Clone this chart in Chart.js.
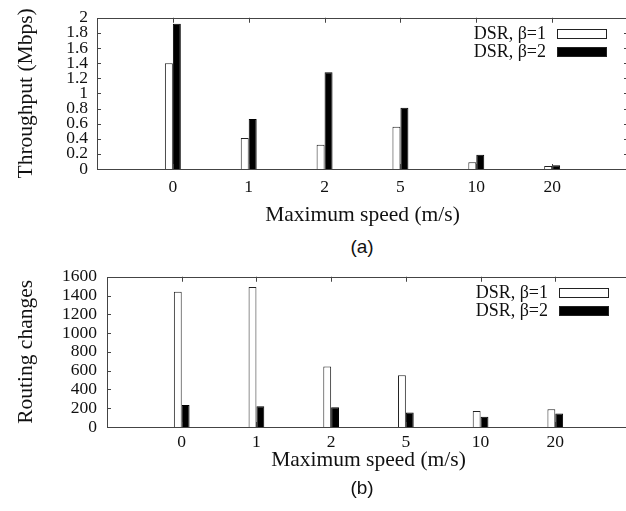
<!DOCTYPE html>
<html>
<head>
<meta charset="utf-8">
<script src="https://cdn.jsdelivr.net/npm/chart.js@4/dist/chart.umd.min.js"></script>
<style>
  html, body { margin: 0; padding: 0; background: #fff; overflow: hidden; width: 626px; height: 511px; }
  canvas { position: absolute; left: 0; }
  #ca { top: 0; }
  #cb { top: 258px; }
  .cap { position: absolute; font-family: 'Liberation Sans', Arial, sans-serif; font-size: 19px; color: #111; width: 100px; text-align: center; line-height: 20px; z-index: 2; }
</style>
</head>
<body>
<canvas id="ca" width="636" height="235"></canvas>
<canvas id="cb" width="636" height="220"></canvas>
<div class="cap" style="left:312px; top:237px;">(a)</div>
<div class="cap" style="left:312px; top:478px;">(b)</div>
<script>
// ---- data ----
const speedLabels = ['0', '1', '2', '5', '10', '20'];
const seriesNames = ['DSR, \u03b2=1', 'DSR, \u03b2=2'];
const throughputB1 = [1.40, 0.41, 0.32, 0.56, 0.09, 0.04];
const throughputB2 = [1.92, 0.66, 1.28, 0.81, 0.19, 0.05];
const routingB1 = [1440, 1490, 645, 550, 170, 190];
const routingB2 = [235, 220, 210, 155, 110, 145];
const throughputTicks = { min: 0, max: 2, step: 0.2 };
const routingTicks = { min: 0, max: 1600, step: 200 };

Chart.defaults.font.family = "'Liberation Serif', 'Times New Roman', serif";
Chart.defaults.color = '#111';

const FRAME = '#444';

const framePlugin = {
  id: 'frame',
  afterDatasetsDraw(chart) {
    const { ctx, chartArea: a, scales: { x, y } } = chart;
    ctx.save();
    ctx.strokeStyle = FRAME;
    ctx.lineWidth = 1;
    ctx.beginPath();
    x.ticks.forEach(t => {
      if (t.value < 0 || t.value >= speedLabels.length) return;
      const px = Math.round(x.getPixelForValue(t.value)) + 0.5;
      ctx.moveTo(px, a.top); ctx.lineTo(px, a.top + 5);
      ctx.moveTo(px, a.bottom); ctx.lineTo(px, a.bottom - 5);
    });
    y.ticks.forEach(t => {
      const py = Math.round(y.getPixelForValue(t.value)) + 0.5;
      ctx.moveTo(a.left, py); ctx.lineTo(a.left + 4, py);
      ctx.moveTo(a.right, py); ctx.lineTo(a.right - 4, py);
    });
    ctx.stroke();
    ctx.strokeRect(Math.round(a.left) + 0.5, Math.round(a.top) + 0.5,
                   Math.round(a.right - a.left), Math.round(a.bottom - a.top));
    // legend (gnuplot style: text then sample box)
    ctx.font = "18px 'Liberation Serif', serif";
    ctx.textAlign = 'right';
    ctx.textBaseline = 'middle';
    chart.data.datasets.forEach((ds, i) => {
      const cy = a.top + 15.5 + i * 17.8;
      ctx.fillStyle = '#111';
      ctx.fillText(ds.label, a.right - 82, cy + 1);
      const bx = Math.round(a.right - 71) + 0.5, by = Math.round(cy - 4.5) + 0.5;
      ctx.fillStyle = ds.backgroundColor;
      ctx.fillRect(bx, by, 49, 9);
      ctx.strokeStyle = '#222';
      ctx.strokeRect(bx, by, 49, 9);
    });
    ctx.restore();
  }
};

function makeChart(id, v1, v2, yr, yTitle, opts) {
  const toPts = arr => arr.map((v, i) => ({ x: i, y: v }));
  return new Chart(document.getElementById(id), {
    type: 'bar',
    data: {
      datasets: [
        { label: seriesNames[0], data: toPts(v1), backgroundColor: '#ffffff', borderColor: '#222', borderWidth: 1 },
        { label: seriesNames[1], data: toPts(v2), backgroundColor: '#000000', borderColor: '#000', borderWidth: 1 }
      ]
    },
    options: {
      responsive: false,
      devicePixelRatio: 1,
      animation: false,
      categoryPercentage: 0.21,
      barPercentage: 1,
      layout: { padding: { left: 0, top: opts.top, right: opts.right, bottom: 0 } },
      plugins: { legend: { display: false }, tooltip: { enabled: false } },
      scales: {
        x: {
          type: 'linear',
          offset: false,
          min: -1, max: 6,
          grid: { display: false, drawTicks: false },
          border: { display: false },
          ticks: {
            stepSize: 1,
            autoSkip: false,
            maxRotation: 0,
            padding: opts.xPad,
            font: { size: 17.5 },
            callback: v => (v >= 0 && v < speedLabels.length ? speedLabels[v] : '')
          },
          title: { display: true, text: 'Maximum speed (m/s)', font: { size: 21.5 }, padding: { top: 0, bottom: opts.xTitlePad } },
          afterFit: s => { s.height = opts.xH; }
        },
        y: {
          min: yr.min, max: yr.max,
          grid: { display: false, drawTicks: false },
          border: { display: false },
          ticks: {
            stepSize: yr.step,
            autoSkip: false,
            padding: opts.yPad,
            font: { size: 17.5, lineHeight: 1 },
            callback: v => String(Math.round(v * 10) / 10)
          },
          title: { display: true, text: yTitle, font: { size: 21.5 }, padding: { top: 13, bottom: 0 } },
          afterFit: s => { s.width = opts.yW; }
        }
      }
    },
    plugins: [framePlugin]
  });
}

makeChart('ca', throughputB1, throughputB2, throughputTicks, 'Throughput (Mbps)',
  { top: 16, right: 7, xH: 66, yW: 97, xPad: 8, xTitlePad: 7, yPad: 9 });
makeChart('cb', routingB1, routingB2, routingTicks, 'Routing changes',
  { top: 15.3, right: 6, xH: 51, yW: 107, xPad: 5, xTitlePad: 5, yPad: 10 });
</script>
</body>
</html>
